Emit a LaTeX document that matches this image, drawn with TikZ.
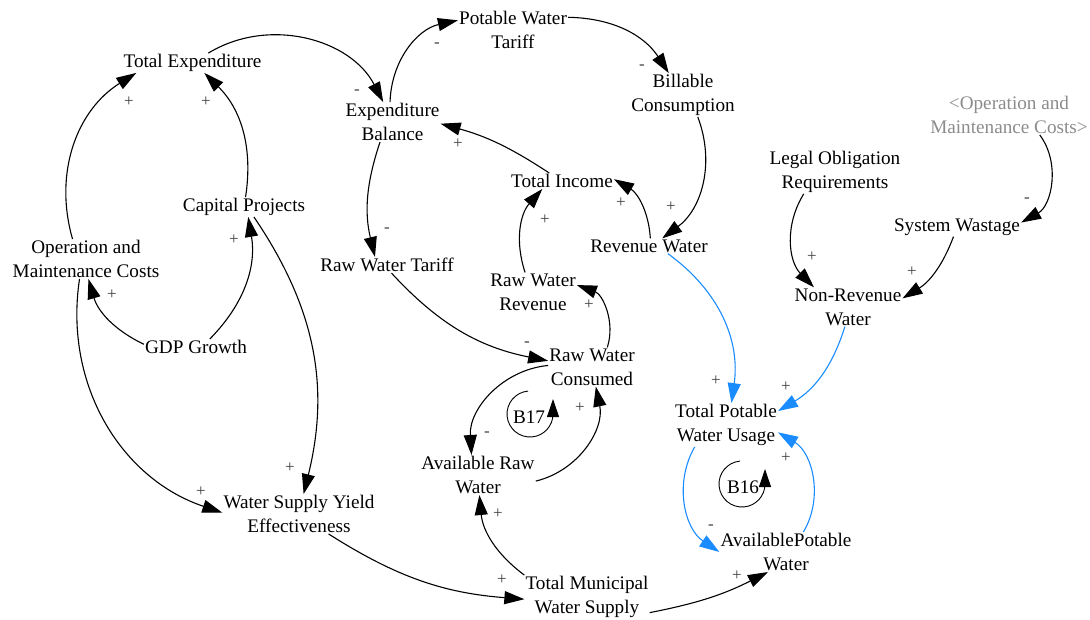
\documentclass[tikz,border=0pt]{standalone}
\usepackage{fontspec}
\setmainfont{Liberation Serif}
\usetikzlibrary{arrows.meta}
\definecolor{linkblue}{HTML}{1A8CFF}
\definecolor{signgray}{HTML}{404040}
\definecolor{shadowgray}{HTML}{8C8C8C}
\tikzset{
  var/.style={align=center, inner sep=1pt, font=\fontsize{19.2}{24}\selectfont},
  ghost/.style={var, text=shadowgray},
  sign/.style={inner sep=0pt, text=signgray, font=\fontsize{17}{20}\selectfont},
  loopname/.style={inner sep=0pt, font=\fontsize{19.2}{24}\selectfont},
  link/.style={line width=1.1pt, -{Triangle[length=20pt,width=13pt]}},
  blink/.style={link, draw=linkblue},
  loopring/.style={line width=0.9pt, -{Triangle[length=18pt,width=12pt]}}
}
\begin{document}
\begin{tikzpicture}[x=1pt,y=1pt]
\useasboundingbox (0,0) rectangle (1090,-619);

% variables
\node[var] (te)   at (192.5,-63) {Total Expenditure};
\node[var] (pwt)  at (513,-30)   {Potable Water\\Tariff};
\node[var] (eb)   at (392.5,-122){Expenditure\\Balance};
\node[var] (bc)   at (683,-95)   {Billable\\Consumption};
\node[var] (ti)   at (562,-181)  {Total Income};
\node[var] (rw)   at (649,-246)  {Revenue Water};
\node[var] (rwt)  at (387,-265)  {Raw Water Tariff};
\node[var] (rwr)  at (533,-292)  {Raw Water\\Revenue};
\node[var] (rwc)  at (592,-367)  {Raw Water\\Consumed};
\node[var] (arw)  at (478,-475)  {Available Raw\\Water};
\node[var] (tmws) at (587,-597)  {Total Municipal\\Water Supply};
\node[var] (wsye) at (299,-514)  {Water Supply Yield\\Effectiveness};
\node[var] (gdp)  at (196,-347)  {GDP Growth};
\node[var] (cp)   at (244,-207)  {Capital Projects};
\node[var] (omc)  at (86,-259)   {Operation and\\Maintenance Costs};
\node[ghost] (omcs) at (1009,-115) {<Operation and\\Maintenance Costs>};
\node[var] (lor)  at (835,-172)  {Legal Obligation\\Requirements};
\node[var] (sw)   at (957,-227)  {System Wastage};
\node[var] (nrw)  at (848,-307)  {Non-Revenue\\Water};
\node[var] (tpwu) at (726,-425)  {Total Potable\\Water Usage};
\node[var] (apw)  at (786,-552)  {AvailablePotable\\Water};

% causal links
\draw[link] (te.32)     to[bend left=47]  (eb.115);
\draw[link] (eb.97)     to[bend left=38]  (pwt.170);
\draw[link] (pwt.13)    to[bend left=28]  (bc.123);
\draw[link] (bc.-56)    to[bend left=37]  (rw.30);
\draw[link] (rw.80)     to[bend right=28] (ti.2);
\draw[link] (ti.148)    to[bend right=9]  (eb.-2);
\draw[link] (eb.-122)   to[bend right=16] (rwt.146);
\draw[link] (rwt.-61)   to[bend right=18] (rwc.172);
\draw[link] (rwc.52)    to[bend right=44] (rwr.9);
\draw[link] (rwr.112)   to[bend left=30]  (ti.-158);
\draw[link] (rwc.178)   to[bend right=44] (arw.108);
\draw[link] (arw.-6)    to[bend right=44] (rwc.-79);
\draw[link] (tmws.north west) to[bend left=24] (arw.-86);
\draw[link] (wsye.-34)  to[bend right=14] (tmws.182);
\draw[link] (tmws.-14)  to[bend right=8]  (apw.-132);
\draw[link] (omc.124)   to[bend left=37]  (te.-170);
\draw[link] (cp.81)     to[bend right=27] (te.-40);
\draw[link] (gdp.177)   to[bend left=24]  (omc.-83);
\draw[link] (gdp.30)    to[bend right=27] (cp.-67);
\draw[link] (cp.-45)    to[bend left=24]  (wsye.77);
\draw[link] (omc.-108)  to[bend right=40] (wsye.179);
\draw[link] (omcs.-33)  to[bend left=49]  (sw.4);
\draw[link] (lor.-145)  to[bend right=38] (nrw.150);
\draw[link] (sw.-110)   to[bend left=19]  (nrw.9);
\draw[blink] (rw.-22)   to[bend left=31]  (tpwu.76);
\draw[blink] (nrw.-99)  to[bend left=21]  (tpwu.15);
\draw[blink] (tpwu.-145) to[bend right=43] (apw.180);
\draw[blink] (apw.49)   to[bend right=45] (tpwu.-8);

% polarities
\node[sign] (s1)  at (357,-92)  {-};
\node[sign] (s2)  at (437,-45)  {-};
\node[sign] (s3)  at (642,-67)  {-};
\node[sign] (s4)  at (671,-207) {+};
\node[sign] (s5)  at (621,-203) {+};
\node[sign] (s6)  at (458,-144) {+};
\node[sign] (s7)  at (387,-230) {-};
\node[sign] (s8)  at (527,-344) {-};
\node[sign] (s9)  at (589,-305) {+};
\node[sign] (s10) at (545,-220) {+};
\node[sign] (s11) at (487,-434) {-};
\node[sign] (s12) at (580,-408) {+};
\node[sign] (s13) at (498,-514) {+};
\node[sign] (s14) at (502,-580) {+};
\node[sign] (s15) at (737,-576) {+};
\node[sign] (s16) at (129,-102) {+};
\node[sign] (s17) at (206,-102) {+};
\node[sign] (s18) at (112,-295) {+};
\node[sign] (s19) at (234,-240) {+};
\node[sign] (s20) at (290,-468) {+};
\node[sign] (s21) at (201,-492) {+};
\node[sign] (s22) at (1027,-200) {-};
\node[sign] (s23) at (812,-257) {+};
\node[sign] (s24) at (912,-272) {+};
\node[sign] (s25) at (716,-381) {+};
\node[sign] (s26) at (786,-387) {+};
\node[sign] (s27) at (711,-527) {-};
\node[sign] (s28) at (786,-458) {+};

% loop markers
\node[loopname] (b17) at (529,-417) {B17};
\draw[loopring] (530,-414) ++(95:23) arc[start angle=95, end angle=360, radius=23] -- ++(0,15);
\node[loopname] (b16) at (743,-487) {B16};
\draw[loopring] (742,-484) ++(95:23) arc[start angle=95, end angle=360, radius=23] -- ++(0,15);
\end{tikzpicture}
\end{document}
